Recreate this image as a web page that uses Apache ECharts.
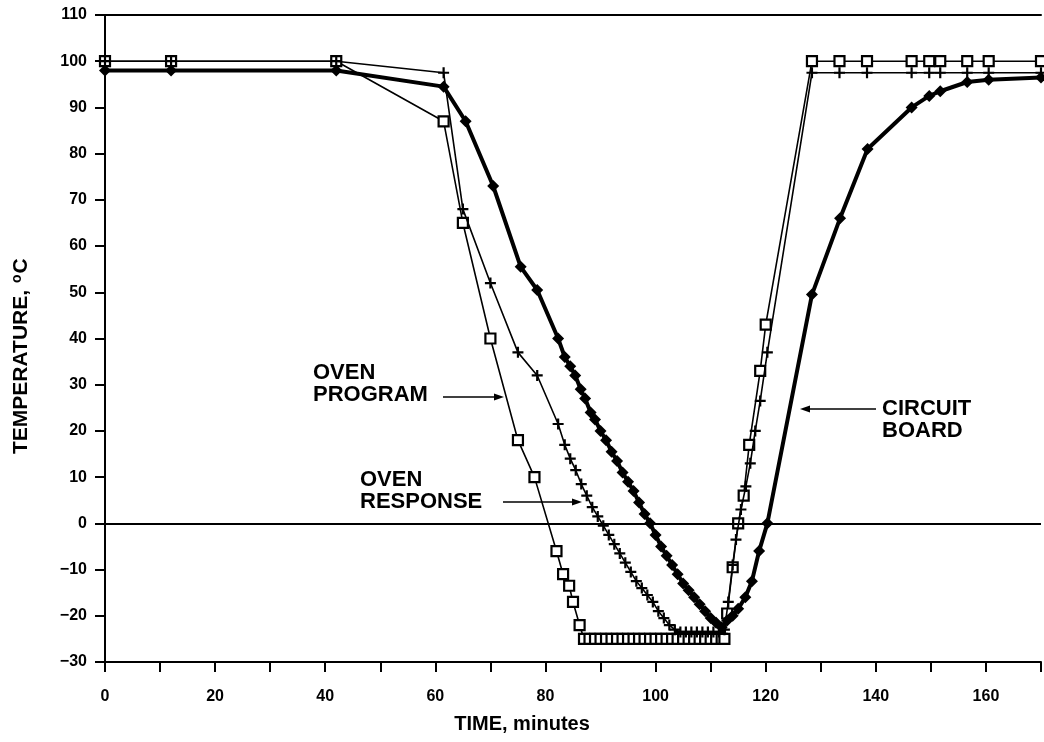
<!DOCTYPE html>
<html>
<head>
<meta charset="utf-8">
<script src="https://cdn.jsdelivr.net/npm/echarts@6/dist/echarts.min.js"></script>
<style>
html,body{margin:0;padding:0;background:#fff;}
#chart{width:1044px;height:742px;}
</style>
</head>
<body>
<div id="chart"></div>
<script>
// ---- data ----
const programTime = [0, 12, 42, 61.5, 65, 70, 75, 78, 82, 83.2, 84.3, 85, 86.2, 87, 88, 89, 90, 91, 92, 93, 94, 95, 96, 97, 98, 99, 100, 101, 102, 103, 104, 105, 106, 107, 108, 109, 110, 111, 112, 112.5, 113, 114, 115, 116, 117, 119, 120, 128.4, 133.4, 138.4, 146.5, 149.7, 151.7, 156.6, 160.5, 170];
const programTemp = [100, 100, 100, 87, 65, 40, 18, 10, -6, -11, -13.5, -17, -22, -25, -25, -25, -25, -25, -25, -25, -25, -25, -25, -25, -25, -25, -25, -25, -25, -25, -25, -25, -25, -25, -25, -25, -25, -25, -25, -25, -19.5, -9.5, 0, 6, 17, 33, 43, 100, 100, 100, 100, 100, 100, 100, 100, 100];

const responseTime = [0, 12, 42, 61.5, 65, 70, 75, 78.5, 82.3, 83.5, 84.5, 85.5, 86.5, 87.5, 88.5, 89.5, 90.5, 91.5, 92.5, 93.5, 94.5, 95.5, 96.5, 97.5, 98.5, 99.5, 100.5, 101.5, 102.5, 103.5, 104.5, 105.5, 106.5, 107.5, 108.5, 109.5, 110.5, 111.5, 112.5, 113.2, 114, 114.6, 115.5, 116.4, 117.2, 118.1, 119, 120.3, 128.4, 133.4, 138.4, 146.5, 149.7, 151.7, 156.6, 160.5, 170];
const responseTemp = [100, 100, 100, 97.5, 68, 52, 37, 32, 21.5, 17, 14, 11.5, 8.5, 6, 3.5, 1.5, -0.5, -2.5, -4.5, -6.5, -8.5, -10.5, -12.5, -14, -15.5, -17, -19, -20.5, -22, -23, -23.5, -23.5, -23.5, -23.5, -23.5, -23.5, -23.5, -23.5, -23, -17, -9, -3.5, 3, 8, 13, 20, 26.5, 37, 97.5, 97.5, 97.5, 97.5, 97.5, 97.5, 97.5, 97.5, 97.5];

const boardTime = [0, 12, 42, 61.5, 65.5, 70.5, 75.5, 78.5, 82.3, 83.5, 84.5, 85.4, 86.4, 87.2, 88.2, 89, 90, 91, 92, 93, 94, 95, 96, 97, 98, 99, 100, 101, 102, 103, 104, 105, 106, 107, 108, 109, 110, 111, 112, 113, 114, 115, 116.3, 117.5, 118.8, 120.3, 128.4, 133.5, 138.5, 146.5, 149.7, 151.7, 156.6, 160.5, 170];
const boardTemp = [98, 98, 98, 94.5, 87, 73, 55.5, 50.5, 40, 36, 34, 32, 29, 27, 24, 22.5, 20, 18, 15.5, 13.5, 11, 9, 7, 4.5, 2, 0, -2.5, -5, -7, -9, -11, -13, -14.5, -16, -17.5, -19, -20.5, -21.5, -22.5, -21, -20, -18.5, -16, -12.5, -6, 0, 49.5, 66, 81, 90, 92.5, 93.5, 95.5, 96, 96.5];

const xTickLabels = ['0', '20', '40', '60', '80', '100', '120', '140', '160'];
const yTickLabels = ['110', '100', '90', '80', '70', '60', '50', '40', '30', '20', '10', '0', '−10', '−20', '−30'];

// ---- build ----
const pair = (t, v) => t.map((x, i) => [x, v[i]]);
const FONT = '"Liberation Sans", Arial, sans-serif';
const PLUS = 'path://M4,0 H6 V4 H10 V6 H6 V10 H4 V6 H0 V4 H4 Z';

const chart = echarts.init(document.getElementById('chart'), null, {renderer: 'canvas'});

const option = {
  animation: false,
  backgroundColor: '#fff',
  grid: {left: 105, right: 0, top: 15, bottom: 80, containLabel: false},
  xAxis: [{
    type: 'value', min: 0, max: 170, interval: 10,
    axisLine: {show: true, onZero: false, lineStyle: {color: '#000', width: 2}},
    axisTick: {show: true, inside: false, length: 10, lineStyle: {color: '#000', width: 2}},
    splitLine: {show: false},
    axisLabel: {
      margin: 27, color: '#000', fontFamily: FONT, fontWeight: 'bold', fontSize: 16,
      formatter: v => (xTickLabels.indexOf(String(v)) >= 0 ? String(v) : '')
    }
  }, {
    type: 'value', min: 0, max: 170, position: 'top',
    axisLine: {show: true, onZero: false, lineStyle: {color: '#000', width: 2}},
    axisTick: {show: false}, axisLabel: {show: false}, splitLine: {show: false}
  }],
  yAxis: {
    type: 'value', min: -30, max: 110, interval: 10,
    axisLine: {show: true, onZero: false, lineStyle: {color: '#000', width: 2}},
    axisTick: {show: true, inside: false, length: 10, lineStyle: {color: '#000', width: 2}},
    splitLine: {show: false},
    axisLabel: {
      margin: 18, color: '#000', fontFamily: FONT, fontWeight: 'bold', fontSize: 16,
      formatter: v => {
        const s = v < 0 ? '−' + Math.abs(v) : String(v);
        return yTickLabels.indexOf(s) >= 0 ? s : '';
      }
    }
  },
  series: [
    {
      name: 'OVEN PROGRAM', type: 'line', data: pair(programTime, programTemp),
      symbol: 'rect', symbolSize: 10, showAllSymbol: true,
      lineStyle: {color: '#000', width: 1.6},
      itemStyle: {color: '#fff', borderColor: '#000', borderWidth: 2.2},
      z: 3,
      markLine: {
        silent: true, symbol: 'none', label: {show: false},
        lineStyle: {color: '#000', width: 2, type: 'solid'},
        data: [{yAxis: 0}]
      }
    },
    {
      name: 'OVEN RESPONSE', type: 'line', data: pair(responseTime, responseTemp),
      symbol: PLUS, symbolSize: 11, showAllSymbol: true,
      lineStyle: {color: '#000', width: 1.6},
      itemStyle: {color: '#000'},
      z: 4
    },
    {
      name: 'CIRCUIT BOARD', type: 'line', data: pair(boardTime, boardTemp),
      symbol: 'diamond', symbolSize: 12, showAllSymbol: true,
      lineStyle: {color: '#000', width: 4},
      itemStyle: {color: '#000'},
      z: 5
    }
  ],
  graphic: [
    {type: 'text', left: 313, top: 362, style: {text: 'OVEN\nPROGRAM', font: 'bold 22px ' + FONT, lineHeight: 22, fill: '#000'}},
    {type: 'line', shape: {x1: 443, y1: 397, x2: 500, y2: 397}, style: {stroke: '#000', lineWidth: 1.5}},
    {type: 'polygon', shape: {points: [[504, 397], [494, 393.5], [494, 400.5]]}, style: {fill: '#000'}},

    {type: 'text', left: 360, top: 469, style: {text: 'OVEN\nRESPONSE', font: 'bold 22px ' + FONT, lineHeight: 22, fill: '#000'}},
    {type: 'line', shape: {x1: 503, y1: 502, x2: 578, y2: 502}, style: {stroke: '#000', lineWidth: 1.5}},
    {type: 'polygon', shape: {points: [[582, 502], [572, 498.5], [572, 505.5]]}, style: {fill: '#000'}},

    {type: 'text', left: 882, top: 398, style: {text: 'CIRCUIT\nBOARD', font: 'bold 22px ' + FONT, lineHeight: 22, fill: '#000'}},
    {type: 'line', shape: {x1: 804, y1: 409, x2: 876, y2: 409}, style: {stroke: '#000', lineWidth: 1.5}},
    {type: 'polygon', shape: {points: [[800, 409], [810, 405.5], [810, 412.5]]}, style: {fill: '#000'}},

    {type: 'text', left: 'center', top: 714, x: 0,
      style: {text: 'TIME, minutes', font: 'bold 20px ' + FONT, fill: '#000'}},
    {type: 'text', x: 10, y: 454, rotation: Math.PI / 2, originX: 0, originY: 0,
      style: {text: 'TEMPERATURE, {sup|o}C', font: 'bold 21px ' + FONT, fill: '#000',
        rich: {sup: {font: 'bold 14px ' + FONT, fill: '#000', verticalAlign: 'top', padding: [0, 1, 8, 1]}}}}
  ]
};
chart.setOption(option);
</script>
</body>
</html>
